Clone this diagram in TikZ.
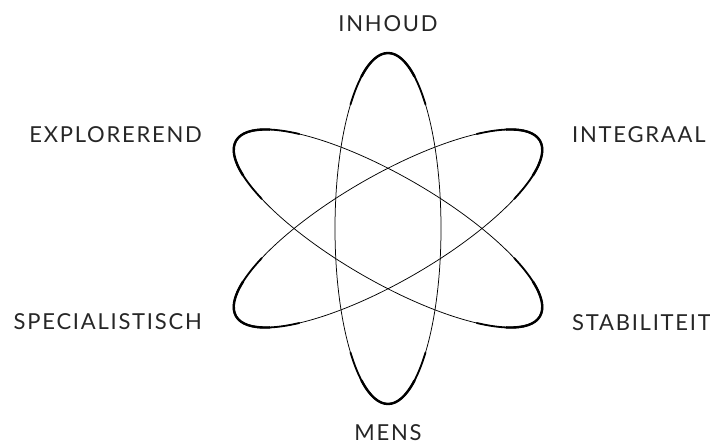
\documentclass[tikz,border=0pt]{standalone}
\usepackage{fontspec}
\setmainfont{Lato}[LetterSpace=8]
\tikzset{
  lbl/.style={inner sep=0pt, font=\fontsize{22}{26}\selectfont, text=black!85},
  thin/.style={line width=0.75pt, black},
  bold/.style={line width=1.8pt, black, line cap=round},
  bolder/.style={line width=2.4pt, black, line cap=round},
}
\newcommand{\atomring}[1]{%
  \begin{scope}[shift={(388,228.5)}, rotate=#1]
    \draw[thin] (0,0) ellipse [x radius=175.5, y radius=53];
    \draw[bold] (-45:175.5 and 53) arc [start angle=-45, end angle=45, x radius=175.5, y radius=53];
    \draw[bold] (135:175.5 and 53) arc [start angle=135, end angle=225, x radius=175.5, y radius=53];
    \draw[bolder] (-30:175.5 and 53) arc [start angle=-30, end angle=30, x radius=175.5, y radius=53];
    \draw[bolder] (150:175.5 and 53) arc [start angle=150, end angle=210, x radius=175.5, y radius=53];
  \end{scope}}
\begin{document}
\begin{tikzpicture}[x=1pt, y=-1pt]
  \useasboundingbox (0,0) rectangle (710,446);
  \atomring{90}
  \atomring{30}
  \atomring{150}
  \node[lbl, anchor=base] (inhoud) at (388,32) {INHOUD};
  \node[lbl, anchor=base] (mens) at (388,441) {MENS};
  \node[lbl, anchor=base east] (explorerend) at (202,143) {EXPLOREREND};
  \node[lbl, anchor=base east] (specialistisch) at (202,330) {SPECIALISTISCH};
  \node[lbl, anchor=base west] (integraal) at (572,143) {INTEGRAAL};
  \node[lbl, anchor=base west] (stabiliteit) at (572,331) {STABILITEIT};
\end{tikzpicture}
\end{document}
